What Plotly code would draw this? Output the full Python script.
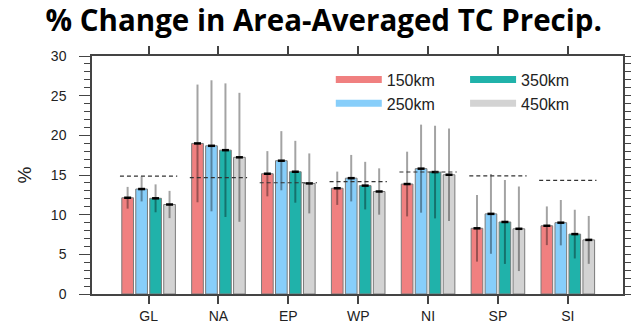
import numpy as np
import plotly.graph_objects as go

# Regions and resolution labels
regions = ["GL", "NA", "EP", "WP", "NI", "SP", "SI"]
resolutions = ["150km", "250km", "350km", "450km"]

# Mean percent change per region for each tracking radius
chg_150 = [12.13, 18.98, 15.16, 13.33, 13.86, 8.28, 8.60]
chg_250 = [13.23, 18.68, 16.80, 14.60, 15.80, 10.10, 8.99]
chg_350 = [12.06, 18.13, 15.41, 13.66, 15.37, 9.08, 7.55]
chg_450 = [11.28, 17.23, 13.94, 12.92, 15.03, 8.22, 6.82]

# Spread (half-length of the whiskers)
err_150 = [1.37, 7.42, 2.85, 2.10, 4.08, 4.20, 2.44]
err_250 = [1.56, 8.26, 3.73, 2.93, 5.55, 5.03, 2.86]
err_350 = [1.76, 8.42, 3.90, 3.00, 5.84, 5.29, 3.07]
err_450 = [1.72, 8.13, 3.78, 2.92, 5.83, 5.33, 3.02]

# Reference value per region (dashed line)
ref_line = [14.86, 14.67, 14.02, 14.17, 15.38, 14.90, 14.33]

y_ticks = [0, 5, 10, 15, 20, 25, 30]

colors = ["#F08080", "#87CEFA", "#20B2AA", "#D3D3D3"]
means = [chg_150, chg_250, chg_350, chg_450]
errs = [err_150, err_250, err_350, err_450]

idx = np.arange(len(regions))
offsets = [-0.3, -0.1, 0.1, 0.3]
bar_w = 0.167

fig = go.Figure()

for k in range(4):
    xk = idx + offsets[k]
    fig.add_trace(go.Bar(
        x=xk, y=means[k], width=bar_w,
        marker=dict(color=colors[k], line=dict(color="#7a7a7a", width=1)),
        error_y=dict(type="data", array=errs[k], symmetric=True,
                     color="rgba(0,0,0,0.36)", thickness=2, width=0),
        showlegend=False, hoverinfo="skip",
    ))
    # small mark on the top of each bar
    fig.add_trace(go.Scatter(
        x=xk, y=means[k], mode="markers",
        marker=dict(symbol="line-ew", size=5, line=dict(color="black", width=2.5)),
        showlegend=False, hoverinfo="skip",
    ))

# dashed reference segments
dx, dy = [], []
for i in idx:
    dx += [i - 0.41, i + 0.41, None]
    dy += [ref_line[i], ref_line[i], None]
fig.add_trace(go.Scatter(
    x=dx, y=dy, mode="lines",
    line=dict(color="#333333", width=1.2, dash="4px,3px"),
    showlegend=False, hoverinfo="skip",
))

# legend swatches in two columns
legend_of = ["legend", "legend", "legend2", "legend2"]
for k in [0, 1, 2, 3]:
    fig.add_trace(go.Scatter(
        x=[None], y=[None], mode="lines", name=resolutions[k],
        line=dict(color=colors[k], width=7),
        legend=legend_of[k], showlegend=True,
    ))

axis_col = "#444444"
leg_font = dict(family="Liberation Sans", size=16, color="#222222")

fig.update_layout(
    width=631, height=324,
    margin=dict(l=92, r=8, t=56, b=30, autoexpand=False),
    paper_bgcolor="white", plot_bgcolor="white",
    title=dict(text="<b>% Change in Area-Averaged TC Precip.</b>",
               font=dict(family="Open Sans", size=29.5, color="black"),
               x=0.513, xanchor="center", y=0.937, yanchor="middle"),
    legend=dict(x=0.4497, y=0.972, xanchor="left", yanchor="top",
                bgcolor="rgba(0,0,0,0)", font=leg_font, itemwidth=46,
                tracegroupgap=0),
    legend2=dict(x=0.7026, y=0.972, xanchor="left", yanchor="top",
                 bgcolor="rgba(0,0,0,0)", font=leg_font, itemwidth=46,
                 tracegroupgap=0),
)

fig.update_xaxes(
    range=[-0.81, 6.79], tickvals=idx, ticktext=regions, automargin=False,
    showline=True, linecolor=axis_col, linewidth=1.5, mirror="ticks",
    ticks="outside", ticklen=8, tickwidth=1.5, tickcolor=axis_col,
    showgrid=False, zeroline=False,
    tickfont=dict(family="Liberation Sans", size=14, color="#222222"),
)
fig.update_yaxes(
    range=[0, 30], tickvals=y_ticks, automargin=False,
    showline=True, linecolor=axis_col, linewidth=1.5, mirror="ticks",
    ticks="outside", ticklen=11, tickwidth=1.3, tickcolor=axis_col,
    minor=dict(dtick=1, ticks="outside", ticklen=6, tickwidth=1, tickcolor=axis_col),
    showgrid=False, zeroline=False, ticklabelstandoff=10,
    tickfont=dict(family="Liberation Sans", size=14, color="#222222"),
    title=dict(text="%", font=dict(family="Liberation Sans", size=19, color="#222222"),
               standoff=14),
)

fig.write_html("out.html")
